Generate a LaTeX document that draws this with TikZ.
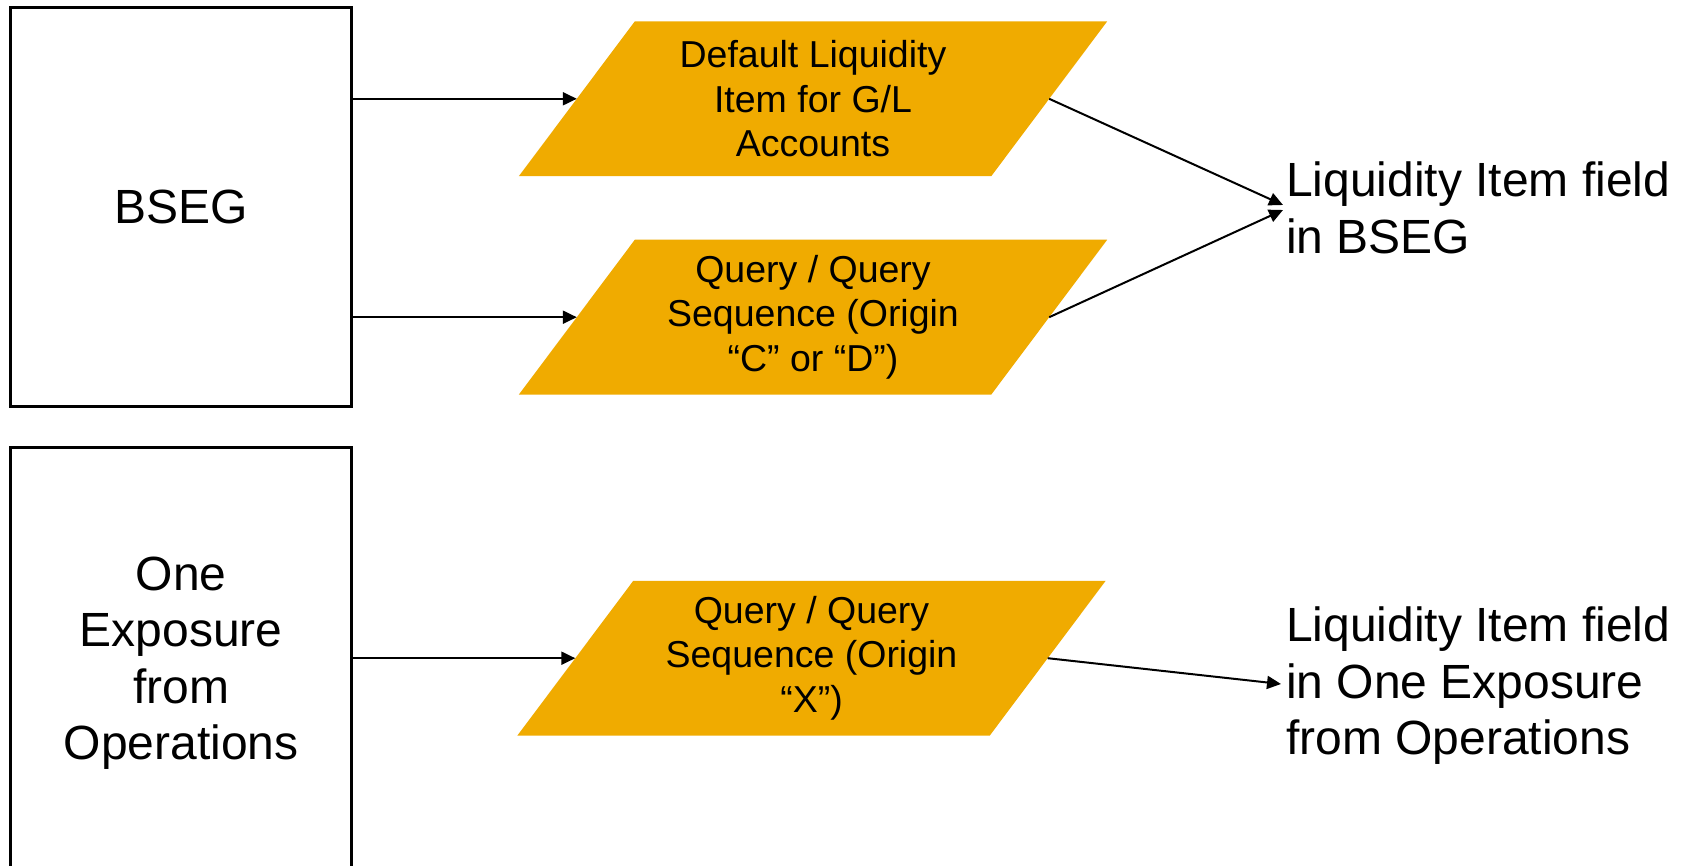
\documentclass[tikz,border=0pt]{standalone}
\usepackage{fontspec}
\setmainfont{Liberation Sans}
\usetikzlibrary{arrows.meta,backgrounds}
\definecolor{sapgold}{RGB}{240,171,0}
\tikzset{
  srcbox/.style={draw=black,line width=3pt,fill=white,align=center,inner sep=0pt,
    font=\fontsize{48}{56.5}\selectfont},
  para/.style={rectangle,draw=none,minimum width=472pt,minimum height=154.5pt,
    inner sep=0pt,align=center,font=\fontsize{37.5}{44.5}\selectfont},
  parafill/.style={fill=sapgold,draw=none},
  lbl/.style={anchor=west,inner sep=0pt,align=left,font=\fontsize{48}{56.5}\selectfont},
  arr/.style={line width=2pt,-{Triangle[length=14pt,width=13pt]}},
}
\begin{document}
\begin{tikzpicture}[x=1pt,y=-1pt]
\clip (0,0) rectangle (1682,866);
\node[srcbox,minimum width=341pt,minimum height=399pt] (b1) at (181.3,207) {BSEG};
\node[srcbox,minimum width=341pt,minimum height=430pt] (b2) at (181.3,663) {One\\Exposure\\from\\Operations};
\node[para] (p1) at (813,98.8) {Default Liquidity\\Item for G/L\\Accounts};
\node[para] (p2) at (813,317.2) {Query / Query\\Sequence (Origin\\\textquotedblleft C\textquotedblright\ or \textquotedblleft D\textquotedblright)};
\node[para] (p3) at (811.5,658.2) {Query / Query\\Sequence (Origin\\\textquotedblleft X\textquotedblright)};
\begin{scope}[on background layer]
\fill[white] (0,0) rectangle (1682,866);
\foreach \p in {p1,p2,p3}{
  \fill[parafill] ([xshift=58pt]\p.north west) -- ([xshift=58pt]\p.north east)
    -- ([xshift=-58pt]\p.south east) -- ([xshift=-58pt]\p.south west) -- cycle;
}
\end{scope}
\node[lbl] (l1) at (1286,208) {Liquidity Item field\\in BSEG};
\node[lbl] (l2) at (1286,686) {Liquidity Item field\\in One Exposure\\from Operations};
\draw[arr] (b1.east |- p1.west) -- (p1.west);
\draw[arr] (b1.east |- p2.west) -- (p2.west);
\draw[arr] (b2.east |- p3.west) -- (p3.west);
\draw[arr] (p1.east) -- ([xshift=-3pt,yshift=3pt]l1.west);
\draw[arr] (p2.east) -- ([xshift=-3pt,yshift=-2pt]l1.west);
\draw[arr] (p3.east) -- ([xshift=-5pt,yshift=2pt]l2.west);
\end{tikzpicture}
\end{document}
